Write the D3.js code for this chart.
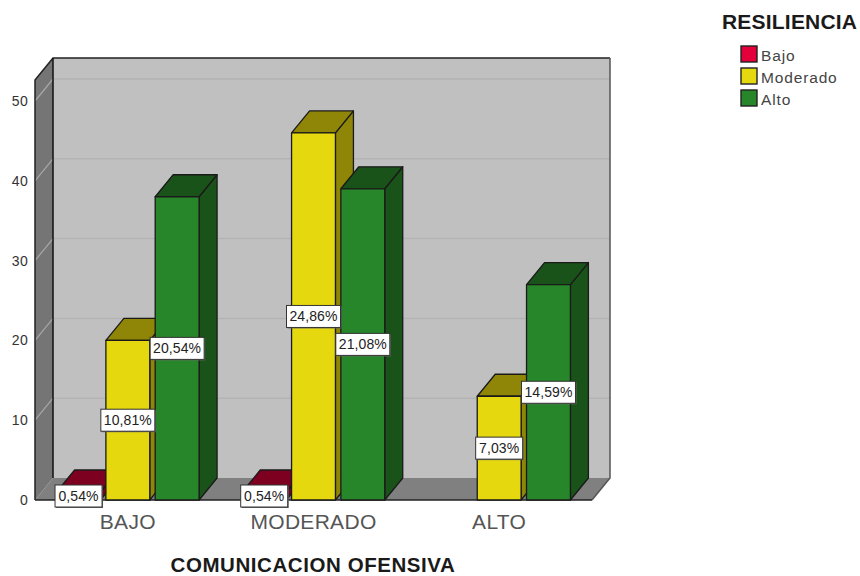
<!DOCTYPE html>
<html><head><meta charset="utf-8">
<script src="https://cdn.jsdelivr.net/npm/d3@7"></script>
<style>html,body{margin:0;padding:0;background:#fff}svg{display:block;font-family:"Liberation Sans",Arial,sans-serif}</style>
</head><body><svg id="c" width="860" height="576"></svg>
<script>
const categories = ["BAJO","MODERADO","ALTO"];
const seriesNames = ["Bajo","Moderado","Alto"];
const bajoValues = [1,1,0];
const moderadoValues = [20,46,13];
const altoValues = [38,39,27];
const bajoLabels = ["0,54%","0,54%",""];
const moderadoLabels = ["10,81%","24,86%","7,03%"];
const altoLabels = ["20,54%","21,08%","14,59%"];
const yTicks = [0,10,20,30,40,50];
const seriesValues = [bajoValues,moderadoValues,altoValues];
const seriesLabels = [bajoLabels,moderadoLabels,altoLabels];

const frontCol = ["#e4003a","#e6d80e","#28862a"];
const topCol = ["#7d0020","#8f8506","#195319"];
const sideCol = ["#7d0020","#8f8506","#195319"];
const stroke = "#1a1a1a";

const svg = d3.select("#c");
const dx = 18, dy = -22;
const x0 = 35, x1 = 592, yBase = 500;
const y = d3.scaleLinear().domain([0,50]).range([yBase,101]);
const yTop = 80;
const xCat = d3.scaleBand().domain(categories).range([x0,x1]);
const xSer = d3.scaleBand().domain(seriesNames).range([0,xCat.bandwidth()]).paddingInner(0.11).paddingOuter(0.438);
const poly = pts => pts.map(p=>p.join(",")).join(" ");

svg.append("polygon").attr("points",poly([[x0,yBase],[x0+dx,yBase+dy],[x1+dx,yBase+dy],[x1,yBase]])).attr("fill","#808080");
svg.append("polygon").attr("points",poly([[x0,yTop],[x0+dx,yTop+dy],[x0+dx,yBase+dy],[x0,yBase]])).attr("fill","#757575");
svg.append("rect").attr("x",x0+dx).attr("y",yTop+dy).attr("width",x1-x0).attr("height",yBase-yTop).attr("fill","#c0c0c0");

yTicks.filter(t=>t>0).forEach(t=>{
  svg.append("line").attr("x1",x0+dx).attr("x2",x1+dx).attr("y1",y(t)+dy).attr("y2",y(t)+dy).attr("stroke","#b3b3b3").attr("stroke-width",1.5);
  svg.append("line").attr("x1",x0).attr("x2",x0+dx).attr("y1",y(t)).attr("y2",y(t)+dy).attr("stroke","#a8a8a8").attr("stroke-width",1.2);
});
svg.append("path").attr("d",`M${x0},${yBase}V${yTop}L${x0+dx},${yTop+dy}H${x1+dx}`).attr("fill","none").attr("stroke","#222").attr("stroke-width",1.5);
svg.append("path").attr("d",`M${x0+dx},${yTop+dy}V${yBase+dy}`).attr("fill","none").attr("stroke","#111").attr("stroke-width",1.5);
svg.append("path").attr("d",`M${x1+dx},${yTop+dy}V${yBase+dy}L${x1},${yBase}`).attr("fill","none").attr("stroke","#555").attr("stroke-width",1.5);
svg.append("line").attr("x1",x0).attr("x2",x1).attr("y1",yBase).attr("y2",yBase).attr("stroke","#222").attr("stroke-width",1.5);

categories.forEach((c,ci)=>{
  seriesNames.forEach((s,si)=>{
    const v = seriesValues[si][ci];
    if(!v) return;
    const l = xCat(c)+xSer(s), w = xSer.bandwidth(), r = l+w, t = y(v), b = y(0);
    const g = svg.append("g").attr("stroke",stroke).attr("stroke-width",1.3).attr("stroke-linejoin","round");
    g.append("polygon").attr("points",poly([[r,t],[r+dx,t+dy],[r+dx,b+dy],[r,b]])).attr("fill",sideCol[si]);
    g.append("polygon").attr("points",poly([[l,t],[l+dx,t+dy],[r+dx,t+dy],[r,t]])).attr("fill",topCol[si]);
    g.append("rect").attr("x",l).attr("y",t).attr("width",w).attr("height",b-t).attr("fill",frontCol[si]);
  });
});

svg.append("g").selectAll("text").data(yTicks).join("text")
  .attr("x",28).attr("y",d=>y(d)+5).attr("text-anchor","end").attr("font-size",14).attr("letter-spacing",0.3).attr("fill","#333").text(d=>d);
svg.append("g").selectAll("text").data(categories).join("text")
  .attr("x",d=>xCat(d)+xCat.bandwidth()/2).attr("y",529).attr("text-anchor","middle").attr("font-size",21).attr("letter-spacing",0.3).attr("fill","#555").text(d=>d);
svg.append("text").attr("x",313).attr("y",572).attr("text-anchor","middle").attr("font-size",20.5).attr("letter-spacing",0.57).attr("font-weight","bold").attr("fill","#1a1a1a").text("COMUNICACION OFENSIVA");

categories.forEach((c,ci)=>{
  seriesNames.forEach((s,si)=>{
    const lab = seriesLabels[si][ci];
    if(!lab) return;
    const cx = xCat(c)+xSer(s)+xSer.bandwidth()/2, cy = (y(seriesValues[si][ci])+y(0))/2;
    const w = lab.length>5?54:47, h = 22;
    svg.append("rect").attr("x",cx-w/2+1).attr("y",cy-h/2+1).attr("width",w).attr("height",h).attr("fill","#666");
    svg.append("rect").attr("x",cx-w/2).attr("y",cy-h/2).attr("width",w).attr("height",h).attr("fill","#fff").attr("stroke","#333").attr("stroke-width",1);
    svg.append("text").attr("x",cx).attr("y",cy+5).attr("text-anchor","middle").attr("font-size",14).attr("letter-spacing",0.1).attr("fill","#222").text(lab);
  });
});

svg.append("text").attr("x",722).attr("y",29).attr("font-size",21).attr("letter-spacing",0.2).attr("font-weight","bold").attr("fill","#1a1a1a").text("RESILIENCIA");
const legendY = d3.scalePoint().domain(seriesNames).range([55,99]);
seriesNames.forEach((s,i)=>{
  svg.append("rect").attr("x",741).attr("y",legendY(s)-9).attr("width",16).attr("height",16).attr("fill",frontCol[i]).attr("stroke","#222").attr("stroke-width",1.4);
  svg.append("text").attr("x",761).attr("y",legendY(s)+6).attr("font-size",15.5).attr("letter-spacing",0.85).attr("fill","#444").text(s);
});
</script></body></html>
